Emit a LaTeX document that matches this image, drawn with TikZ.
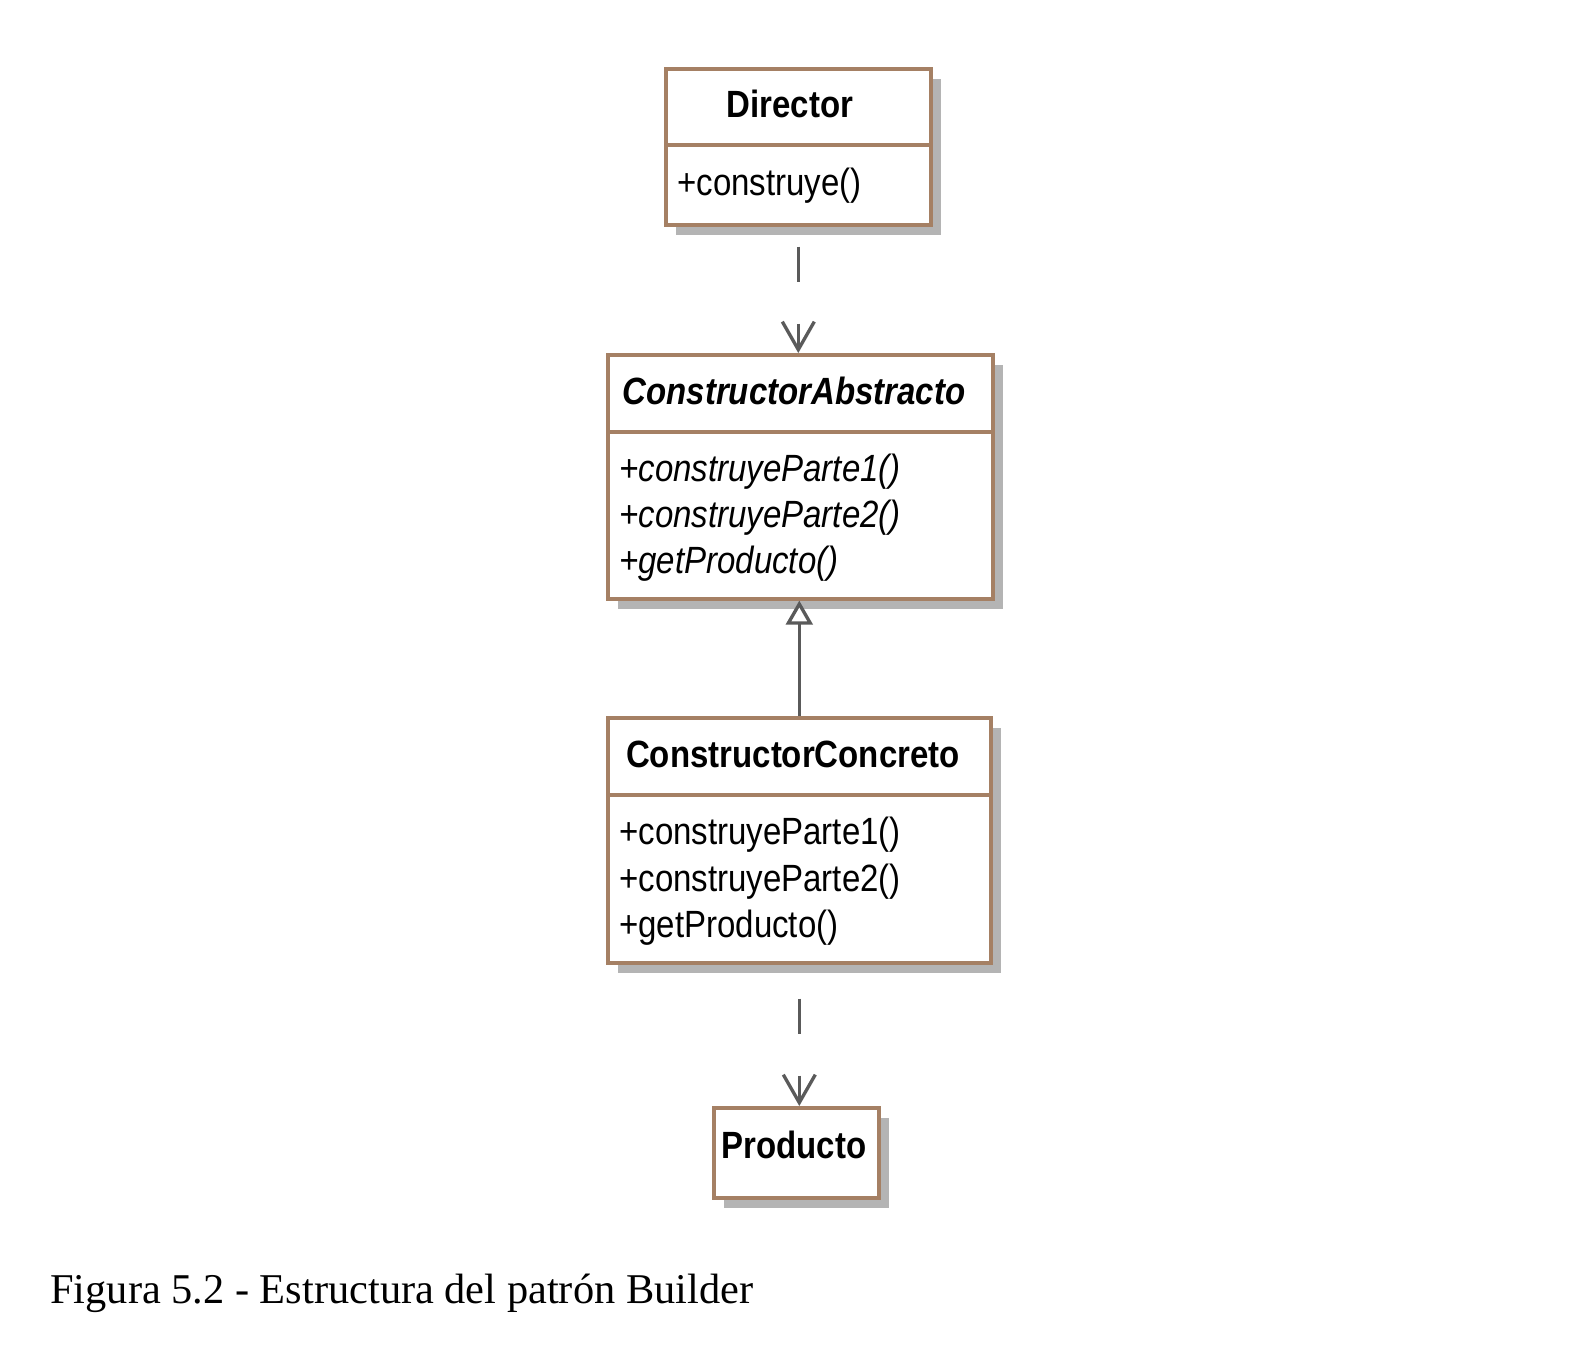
\documentclass[tikz,border=0pt]{standalone}
\usepackage{fontspec}
\setmainfont{Liberation Serif}
\newfontfamily\umlfont{Liberation Sans}
\usetikzlibrary{arrows.meta,shadows,calc}
\definecolor{umlborder}{RGB}{165,128,100}
\definecolor{umlline}{RGB}{90,90,90}
\definecolor{umlshadow}{RGB}{180,180,180}
\newcommand\vst[1]{\scalebox{1}[1.15]{#1}}
\begin{document}
\begin{tikzpicture}[x=0.75pt,y=-0.75pt,
  classbox/.style={draw=umlborder, line width=2.7pt, fill=white, rectangle, anchor=north west, inner sep=0pt,
    drop shadow={shadow xshift=7.5pt, shadow yshift=-7.5pt, fill=umlshadow, opacity=1}},
  sepline/.style={draw=umlborder, line width=2.7pt},
  umltitle/.style={anchor=base, inner sep=0pt, font=\umlfont\fontsize{24.75}{30}\selectfont\bfseries},
  member/.style={anchor=base west, inner sep=0pt, font=\umlfont\fontsize{24.75}{30}\selectfont},
  dep/.style={draw=umlline, line width=2.5pt, dash pattern=on 26.25pt off 31.5pt,
    -{Straight Barb[length=21pt,width=24pt]}},
  gen/.style={draw=umlline, line width=2.5pt, -{Triangle[open,length=18pt,width=20pt,fill=white]}}
]
\useasboundingbox (0,0) rectangle (1570,1346);

% Director
\node[classbox, minimum width=198.75pt, minimum height=117pt] (dir) at (664,67) {};
\draw[sepline] (dir.west |- 0,145) -- (dir.east |- 0,145);
\node[umltitle] (dirt) at (790,117) {\vst{Director}};
\node[member] (dirm) at (677,195) {\vst{+construye()}};

% ConstructorAbstracto
\node[classbox, minimum width=288.75pt, minimum height=183pt] (abs) at (606,353) {};
\draw[sepline] (abs.west |- 0,432) -- (abs.east |- 0,432);
\node[umltitle, font=\umlfont\fontsize{24.75}{30}\selectfont\bfseries\itshape] (abst) at (794,404) {\vst{ConstructorAbstracto}};
\node[member, font=\umlfont\fontsize{24.75}{30}\selectfont\itshape] (absm1) at (619,481) {\vst{+construyeParte1()}};
\node[member, font=\umlfont\fontsize{24.75}{30}\selectfont\itshape] (absm2) at (619,527) {\vst{+construyeParte2()}};
\node[member, font=\umlfont\fontsize{24.75}{30}\selectfont\itshape] (absm3) at (619,573) {\vst{+getProducto()}};

% ConstructorConcreto
\node[classbox, minimum width=287.25pt, minimum height=183.75pt] (con) at (606,716) {};
\draw[sepline] (con.west |- 0,795) -- (con.east |- 0,795);
\node[umltitle] (cont) at (793,767) {\vst{ConstructorConcreto}};
\node[member] (conm1) at (619,844) {\vst{+construyeParte1()}};
\node[member] (conm2) at (619,891) {\vst{+construyeParte2()}};
\node[member] (conm3) at (619,937) {\vst{+getProducto()}};

% Producto
\node[classbox, minimum width=123.75pt, minimum height=67.5pt] (prod) at (712,1106) {};
\node[umltitle] (prodt) at (794,1158) {\vst{Producto}};

% connectors
\draw[dep, shorten <=15pt] (dir.south) -- (dir.south |- abs.north);
\draw[gen] (con.north) -- (con.north |- abs.south);
\draw[dep, shorten <=25.5pt] (con.south) -- (con.south |- prod.north);

% caption
\node[anchor=base west, inner sep=0pt, font=\fontsize{31.8}{36}\selectfont] (caption) at (50,1303) {Figura 5.2 - Estructura del patrón Builder};
\end{tikzpicture}
\end{document}
